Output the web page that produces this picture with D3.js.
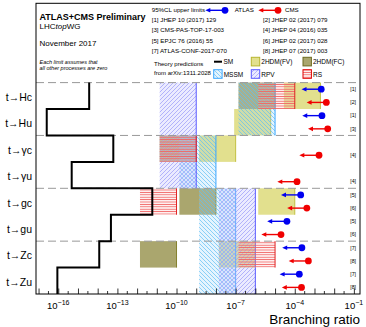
<!DOCTYPE html>
<html lang='en'>
<head>
<meta charset='utf-8'>
<script src='https://d3js.org/d3.v7.min.js'></script>
<style>
  body { margin:0; background:#fff; }
  svg text { font-family: 'Liberation Sans', Arial, Helvetica, sans-serif; }
</style>
</head>
<body>
<div id='chart'></div>
<script>
// processes, listed top to bottom
var processes = ['t\u2192Hc', 't\u2192Hu', 't\u2192\u03b3c', 't\u2192\u03b3u', 't\u2192gc', 't\u2192gu', 't\u2192Zc', 't\u2192Zu'];

// SM expectation per process
var smValues = [3.7e-15, 2.6e-17, 6.2e-14, 4.8e-16, 5.9e-12, 4.7e-14, 1.2e-14, 9e-17];

// experimental 95% CL upper limits
var atlasLimits = [2.2e-3, 2.4e-3, null, null, 2.0e-4, 4.0e-5, 2.3e-4, 1.7e-4];
var atlasRefs   = ['[1]', '[1]', null, null, '[5]', '[5]', '[7]', '[7]'];
var cmsLimits   = [4.0e-3, 4.7e-3, 1.7e-3, 1.3e-4, 4.1e-4, 2.0e-5, 4.9e-4, 2.2e-4];
var cmsRefs     = ['[2]', '[3]', '[4]', '[4]', '[6]', '[6]', '[8]', '[8]'];

// theory predictions: [process index, low, high]
var fvRanges   = [[0, 2.8e-5, 2e-3], [1, 8.4e-8, 6e-6], [2, 1.4e-9, 1e-7], [4, 1.4e-6, 1e-4], [6, 1.4e-8, 1e-6]];
var fcRanges   = [[0, 1.4e-7, 1e-5], [2, 1.4e-11, 1e-9], [4, 1.4e-10, 1e-8], [6, 1.4e-12, 1e-10]];
var mssmRanges = [[0, 1.4e-7, 1e-5], [1, 1.4e-7, 1e-5], [2, 1.4e-10, 1e-8], [3, 1.4e-10, 1e-8],
                  [4, 1.4e-9, 1e-7], [5, 1.4e-9, 1e-7], [6, 1.4e-9, 1e-7], [7, 1.4e-9, 1e-7]];
var rpvRanges  = [[0, 1.4e-11, 1e-9], [1, 1.4e-11, 1e-9], [2, 1.4e-11, 1e-9], [3, 1.4e-11, 1e-9],
                  [4, 1.4e-8, 1e-6], [5, 1.4e-8, 1e-6], [6, 1.4e-8, 1e-6], [7, 1.4e-8, 1e-6]];
var rsRanges   = [[0, 1.4e-6, 1e-4], [2, 1.4e-11, 1e-9], [4, 1.4e-12, 1e-10], [6, 1.4e-7, 1e-5]];

// axis
var labelExponents = [-16, -13, -10, -7, -4, -1];
var references = [
	['[1] JHEP 10 (2017) 129', '[2] JHEP 02 (2017) 079'],
	['[3] CMS-PAS-TOP-17-003', '[4] JHEP 04 (2016) 035'],
	['[5] EPJC 76 (2016) 55', '[6] JHEP 02 (2017) 028'],
	['[7] ATLAS-CONF-2017-070', '[8] JHEP 07 (2017) 003']
];

var width = 366, height = 327;
var frame = {left: 36, right: 360, top: 3.3, bottom: 294};
var rowsTop = 82.6;

var svg = d3.select('#chart').append('svg')
	.attr('width', width)
	.attr('height', height);

var x = d3.scaleLog()
	.domain([Math.pow(10, -17.13), Math.pow(10, -0.69)])
	.range([frame.left, frame.right]);

var y = d3.scaleBand()
	.domain(processes)
	.range([rowsTop, frame.bottom]);
var bw = y.bandwidth();

//patterns
var defs = svg.append('defs');
function hatch(id, d, color, bg) {
	var p = defs.append('pattern')
		.attr('id', id)
		.attr('patternUnits', 'userSpaceOnUse')
		.attr('width', 4).attr('height', 4);
	p.append('rect').attr('width', 4).attr('height', 4).attr('fill', bg);
	p.append('path')
		.attr('d', d)
		.attr('stroke', color)
		.attr('stroke-width', 0.7)
		.attr('fill', 'none');
}
hatch('mssm', 'M-1,3 l2,2 M0,0 l4,4 M3,-1 l2,2', '#62bef4', 'rgba(150,210,250,0.25)');
hatch('rpv', 'M-1,1 l2,-2 M0,4 l4,-4 M3,5 l2,-2', '#9a9af8', 'rgba(190,190,255,0.3)');
var rsPat = defs.append('pattern')
	.attr('id', 'rs')
	.attr('patternUnits', 'userSpaceOnUse')
	.attr('width', 4).attr('height', 2.4);
rsPat.append('rect').attr('width', 4).attr('height', 2.4).attr('fill', 'rgba(250,190,190,0.25)');
rsPat.append('rect')
	.attr('x', 0).attr('y', 0).attr('width', 4).attr('height', 0.8)
	.attr('fill', '#f06464');

var models = [
	{data: fvRanges,   fill: '#e2e08e', edge: '#c2c040'},
	{data: fcRanges,   fill: '#aaa66e', edge: '#85812e'},
	{data: mssmRanges, fill: 'url(#mssm)', edge: '#3aa6ff'},
	{data: rpvRanges,  fill: 'url(#rpv)', edge: '#5a5aff'},
	{data: rsRanges,   fill: 'url(#rs)', edge: '#e02424'}
];

var boxes = svg.append('g');
models.forEach(function(m) {
	var g = boxes.append('g');
	g.selectAll('rect')
		.data(m.data)
		.enter()
		.append('rect')
		.attr('x', function(d) { return x(d[1]); })
		.attr('y', function(d) { return y(processes[d[0]]); })
		.attr('width', function(d) { return x(d[2]) - x(d[1]); })
		.attr('height', bw)
		.style('fill', m.fill);
	g.selectAll('line')
		.data(m.data)
		.enter()
		.append('line')
		.attr('x1', function(d) { return x(d[2]); })
		.attr('x2', function(d) { return x(d[2]); })
		.attr('y1', function(d) { return y(processes[d[0]]); })
		.attr('y2', function(d) { return y(processes[d[0]]) + bw; })
		.style('stroke', m.edge)
		.style('stroke-width', 1);
});

//separators
svg.selectAll('.sep')
	.data([0, 2, 4, 6])
	.enter()
	.append('line')
	.attr('class', 'sep')
	.attr('x1', frame.left).attr('x2', frame.right)
	.attr('y1', function(d) { return y(processes[d]); })
	.attr('y2', function(d) { return y(processes[d]); })
	.style('stroke', '#999')
	.style('stroke-width', 1)
	.style('stroke-dasharray', '8,4');

//SM step line
var smPoints = [];
smValues.forEach(function(v, i) {
	smPoints.push([x(v), y(processes[i])]);
	smPoints.push([x(v), y(processes[i]) + bw]);
});
svg.append('path')
	.attr('d', d3.line()(smPoints))
	.style('fill', 'none')
	.style('stroke', 'black')
	.style('stroke-width', 2);

//limits
function limitMarker(g, xv, yv, color) {
	var tip = x(xv / 10);
	g.append('line')
		.attr('x1', tip + 3).attr('x2', x(xv))
		.attr('y1', yv).attr('y2', yv)
		.style('stroke', color).style('stroke-width', 1.4);
	g.append('path')
		.attr('d', 'M' + tip + ',' + yv + 'l5,-2.3l0,4.6z')
		.style('fill', color);
	g.append('circle')
		.attr('cx', x(xv)).attr('cy', yv).attr('r', 3.4)
		.style('fill', color);
}
var limits = svg.append('g');
atlasLimits.forEach(function(v, i) {
	if (v === null) return;
	limitMarker(limits, v, y(processes[i]) + bw * 0.25, '#0000f0');
});
cmsLimits.forEach(function(v, i) {
	if (v === null) return;
	limitMarker(limits, v, y(processes[i]) + bw * 0.75, '#f00000');
});

//reference tags
var tags = [];
atlasRefs.forEach(function(r, i) { if (r) tags.push([r, y(processes[i]) + bw * 0.25]); });
cmsRefs.forEach(function(r, i) { if (r) tags.push([r, y(processes[i]) + bw * 0.75]); });
svg.selectAll('.tag')
	.data(tags)
	.enter()
	.append('text')
	.attr('class', 'tag')
	.attr('x', 356)
	.attr('y', function(d) { return d[1] + 1.8; })
	.attr('text-anchor', 'end')
	.style('font-size', '5.2px')
	.text(function(d) { return d[0]; });

//row labels
svg.selectAll('.rowlabel')
	.data(processes)
	.enter()
	.append('text')
	.attr('class', 'rowlabel')
	.attr('x', 32)
	.attr('y', function(d) { return y(d) + bw / 2 + 5; })
	.attr('text-anchor', 'end')
	.style('font-size', '10.5px')
	.text(function(d) { return d; });

//x axis
var xAxis = svg.append('g')
	.attr('transform', 'translate(0,' + frame.bottom + ')')
	.call(d3.axisBottom(x)
		.tickValues(d3.range(-17, 0).map(function(e) { return Math.pow(10, e); }))
		.tickSize(-5.5)
		.tickFormat(''));
xAxis.select('.domain').remove();
xAxis.selectAll('line').style('stroke', '#000').style('stroke-width', 0.8);

var minor = [];
d3.range(-17, -1).forEach(function(e) { minor.push(3 * Math.pow(10, e)); });
var xMinor = svg.append('g')
	.attr('transform', 'translate(0,' + frame.bottom + ')')
	.call(d3.axisBottom(x).tickValues(minor).tickSize(-3).tickFormat(''));
xMinor.select('.domain').remove();
xMinor.selectAll('line').style('stroke', '#000').style('stroke-width', 0.8);

var tl = svg.selectAll('.ticklabel')
	.data(labelExponents)
	.enter()
	.append('text')
	.attr('class', 'ticklabel')
	.attr('x', function(d) { return x(Math.pow(10, d)); })
	.attr('y', 308.5)
	.attr('text-anchor', 'middle')
	.style('font-size', '9.5px');
tl.append('tspan').text('10');
tl.append('tspan')
	.attr('dy', -4)
	.style('font-size', '7px')
	.text(function(d) { return '\u2212' + (-d); });

svg.append('text')
	.attr('x', frame.right)
	.attr('y', 323.5)
	.attr('text-anchor', 'end')
	.style('font-size', '13.5px')
	.text('Branching ratio');

//frame
svg.append('rect')
	.attr('x', frame.left).attr('y', frame.top)
	.attr('width', frame.right - frame.left)
	.attr('height', frame.bottom - frame.top)
	.style('fill', 'none')
	.style('stroke', 'black')
	.style('stroke-width', 1);

//header texts
svg.append('text').attr('x', 39.5).attr('y', 19.5)
	.style('font-size', '9px').style('font-weight', 'bold')
	.text('ATLAS+CMS Preliminary');
var lhc = svg.append('text').attr('x', 39.5).attr('y', 28.5).style('font-size', '8px');
lhc.append('tspan').text('LHC');
lhc.append('tspan').style('font-style', 'italic').text('top');
lhc.append('tspan').text('WG');
svg.append('text').attr('x', 39.5).attr('y', 46)
	.style('font-size', '8px')
	.text('November 2017');
svg.append('text').attr('x', 39.5).attr('y', 63.5)
	.style('font-size', '5.5px').style('font-style', 'italic')
	.text('Each limit assumes that');
svg.append('text').attr('x', 39.5).attr('y', 69.5)
	.style('font-size', '5.5px').style('font-style', 'italic')
	.text('all other processes are zero');

var small = '6.2px';
svg.append('text').attr('x', 151.7).attr('y', 12.2)
	.style('font-size', small)
	.text('95%CL upper limits');
limitMarker(svg, x.invert(225), 10.3, '#0000f0');
svg.append('text').attr('x', 234.7).attr('y', 12.2).style('font-size', small).text('ATLAS');
limitMarker(svg, x.invert(278), 10.3, '#f00000');
svg.append('text').attr('x', 285).attr('y', 12.2).style('font-size', small).text('CMS');

references.forEach(function(row, i) {
	svg.append('text').attr('x', 151.7).attr('y', 22 + i * 10.3)
		.style('font-size', small).text(row[0]);
	svg.append('text').attr('x', 263).attr('y', 22 + i * 10.3)
		.style('font-size', small).text(row[1]);
});

svg.append('text').attr('x', 154).attr('y', 65.5).style('font-size', '6px').text('Theory predictions');
svg.append('text').attr('x', 154).attr('y', 74.5).style('font-size', '6px').text('from arXiv:1311.2028');

// theory legend
svg.append('line').attr('x1', 214).attr('x2', 222).attr('y1', 61.7).attr('y2', 61.7)
	.style('stroke', 'black').style('stroke-width', 2);
svg.append('text').attr('x', 223.5).attr('y', 64.2).style('font-size', '6.5px').text('SM');

var legendItems = [
	{label: '2HDM(FV)', fill: '#e2e08e', stroke: '#b8b630', x: 251.3, y: 57.3},
	{label: '2HDM(FC)', fill: '#aaa66e', stroke: '#6e6a20', x: 303,   y: 57.3},
	{label: 'MSSM',     fill: 'url(#mssm)', stroke: '#3aa6ff', x: 213.7, y: 69.7},
	{label: 'RPV',      fill: 'url(#rpv)', stroke: '#5a5aff', x: 251.3, y: 69.7},
	{label: 'RS',       fill: 'url(#rs)', stroke: '#e00000', x: 303,   y: 69.7}
];
var leg = svg.selectAll('.leg')
	.data(legendItems)
	.enter()
	.append('g')
	.attr('class', 'leg');
leg.append('rect')
	.attr('x', function(d) { return d.x; })
	.attr('y', function(d) { return d.y; })
	.attr('width', 8.4).attr('height', 8.6)
	.style('fill', function(d) { return d.fill; })
	.style('stroke', function(d) { return d.stroke; })
	.style('stroke-width', 1);
leg.append('text')
	.attr('x', function(d) { return d.x + 10; })
	.attr('y', function(d) { return d.y + 6.9; })
	.style('font-size', '6.5px')
	.text(function(d) { return d.label; });
</script>
</body>
</html>
